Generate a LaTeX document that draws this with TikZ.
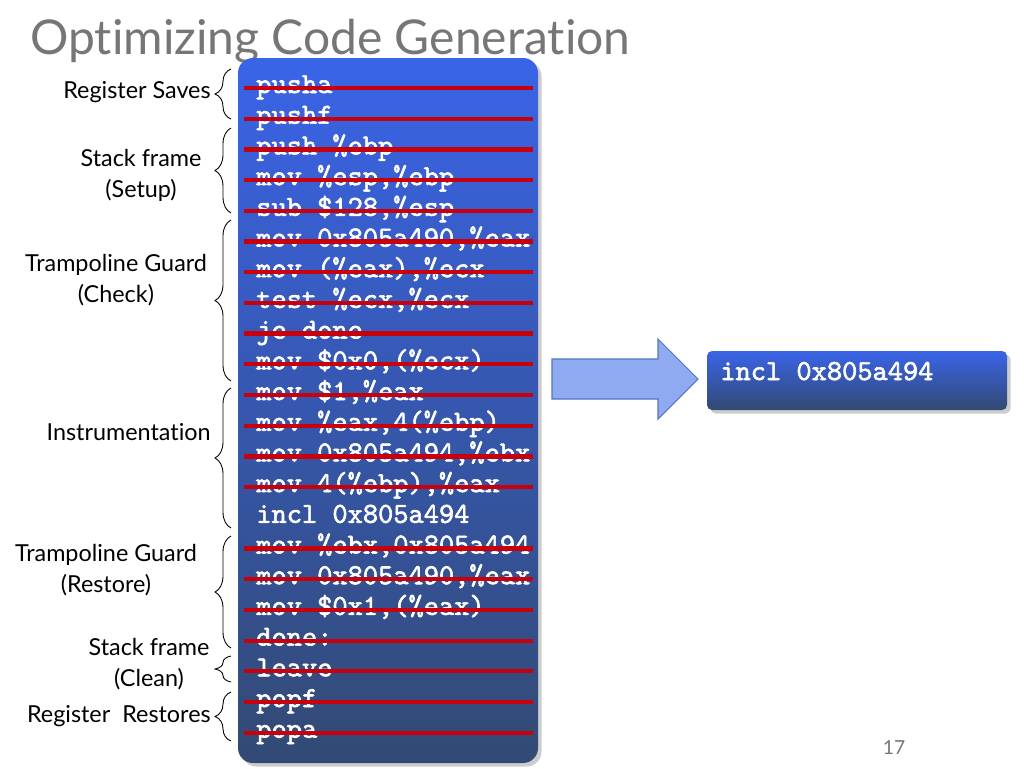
\documentclass[tikz,border=0pt]{standalone}
\usepackage{fontspec}
\setmainfont{Lato}[Ligatures=NoCommon]
\newfontfamily\codefont{lmmono10-regular.otf}[FakeBold=2]
\usetikzlibrary{decorations.pathreplacing,shadows}

\definecolor{titlegray}{RGB}{118,118,118}
\definecolor{boxtop}{RGB}{58,100,232}
\definecolor{boxmid}{RGB}{50,84,165}
\definecolor{boxbot}{RGB}{50,74,115}
\definecolor{strikered}{RGB}{200,0,12}
\definecolor{arrowfill}{RGB}{143,170,240}
\definecolor{arrowline}{RGB}{85,115,200}

\tikzset{
  codeline/.style={anchor=base west, inner sep=0pt, text=white,
    font=\codefont\fontsize{16.5}{19}\selectfont},
  strike/.style={strikered, line width=2.4pt},
  group/.style={decorate, decoration={brace, amplitude=0.32cm}, line width=0.5pt},
  grouplabel/.style={align=center, inner sep=0pt, font=\fontsize{13.3}{17.6}\selectfont},
  codebox/.style={top color=boxtop, middle color=boxmid, bottom color=boxbot,
    drop shadow={shadow xshift=2pt, shadow yshift=-2pt, opacity=0.4}},
  bigarrow/.style={fill=arrowfill, draw=arrowline, line width=0.6pt}
}

\begin{document}
\begin{tikzpicture}[x=0.02cm, y=-0.02cm]
    \useasboundingbox (0,0) rectangle (1024,768);

    % title
    \node[anchor=base west, inner sep=0pt, text=titlegray,
      font=\fontsize{27.3}{33}\selectfont] (title) at (30,54) {Optimizing Code Generation};

    % listing
    \path[codebox, rounded corners=0.3cm] (238,58) rectangle (538,763);
    \foreach \txt [count=\i from 0] in {pusha, pushf, push \%ebp, {mov \%esp,\%ebp},
        {sub \$128,\%esp}, {mov 0x805a490,\%eax}, {mov (\%eax),\%ecx}, {test \%ecx,\%ecx},
        je done, {mov \$0x0,(\%ecx)}, {mov \$1,\%eax}, {mov \%eax,4(\%ebp)},
        {mov 0x805a494,\%ebx}, {mov 4(\%ebp),\%eax}, incl 0x805a494, {mov \%ebx,0x805a494},
        {mov 0x805a490,\%eax}, {mov \$0x1,(\%eax)}, done:, leave, popf, popa} {
        \pgfmathsetmacro\b{93+30.7*\i}
        \node[codeline] (c\i) at (256,\b) {\txt};
        \pgfmathsetmacro\s{\b-5}
        \ifnum\i=14\else
            \draw[strike] (244,\s) -- (533,\s);
        \fi
    }

    % groups
    \draw[group] (231,119) -- (231,69);
    \draw[group] (231,213) -- (231,128);
    \draw[group] (231,381) -- (231,220);
    \draw[group] (231,528) -- (231,388);
    \draw[group] (231,648) -- (231,536);
    \draw[group] (231,682) -- (231,656);
    \draw[group] (231,741) -- (231,692);

    \node[grouplabel, anchor=east] (saves) at (211,92) {Register Saves};
    \node[grouplabel] (setup) at (141,175.5) {Stack frame\\(Setup)};
    \node[grouplabel] (check) at (116,280.5) {Trampoline Guard\\(Check)};
    \node[grouplabel, anchor=east] (instr) at (211,432) {Instrumentation};
    \node[grouplabel] (restore) at (106,570.5) {Trampoline Guard\\(Restore)};
    \node[grouplabel] (clean) at (149,664) {Stack frame\\(Clean)};
    \node[grouplabel, anchor=east] (restores) at (211,716) {Register\ \ Restores};

    % result
    \draw[bigarrow] (552,359) -- (658,359) -- (658,339) -- (698,379) -- (658,419)
      -- (658,399) -- (552,399) -- cycle;
    \path[codebox, rounded corners=0.1cm] (707,351) rectangle (1007,410);
    \node[codeline] (result) at (720,380) {incl 0x805a494};

    \node[text=titlegray, font=\fontsize{11}{13}\selectfont] (page) at (894,748) {17};
\end{tikzpicture}
\end{document}
